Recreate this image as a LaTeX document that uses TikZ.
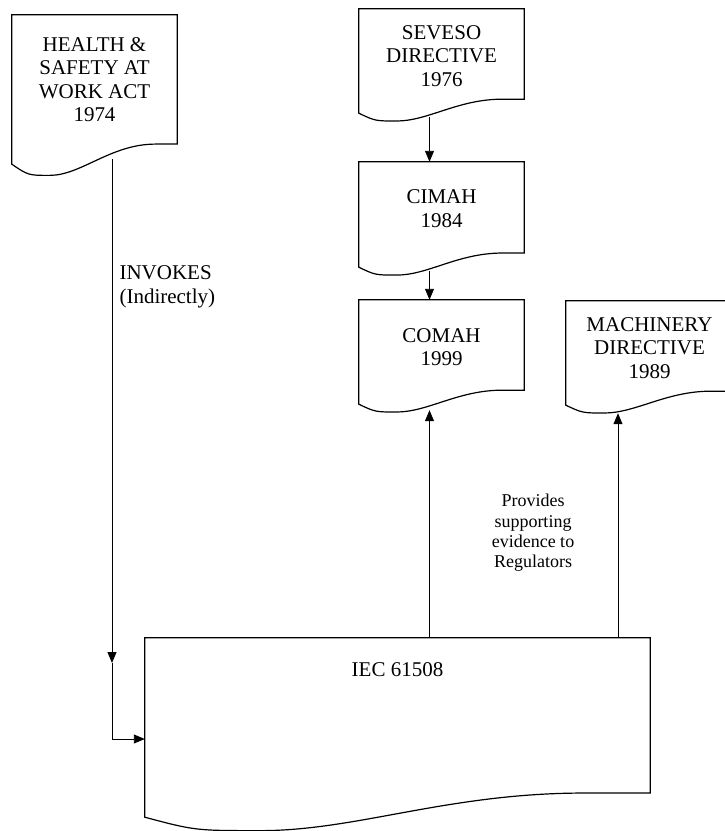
\documentclass[tikz,border=0pt]{standalone}
\usepackage{fontspec}
\setmainfont{Liberation Serif}
\usetikzlibrary{arrows.meta,calc,positioning}

\tikzset{
  docbox/.style 2 args={rectangle, minimum width=#1pt, minimum height=#2pt,
    inner sep=0pt, align=center, font=\fontsize{21}{23.5}\selectfont},
  docline/.style={line width=1.2pt},
  link/.style={line width=0.9pt, -{Triangle[length=11pt,width=9pt]}},
  note/.style={font=\fontsize{18}{20.3}\selectfont, align=center}
}

% document outline: node, width, height
\newcommand{\docoutline}[3]{%
  \draw[docline] (#1.north west) -- (#1.north east)
    -- ($(#1.south east)+(0,-0.135*#3)$)
    -- ($(#1.south west)+(0.87*#2,-0.135*#3)$)
    .. controls ($(#1.south west)+(0.6*#2,-0.135*#3)$)
    and ($(#1.south west)+(0.42*#2,0.075*#3)$)
    .. ($(#1.south west)+(0.23*#2,0.075*#3)$)
    .. controls ($(#1.south west)+(0.1*#2,0.075*#3)$)
    .. (#1.south west) -- cycle;}

\begin{document}
\begin{tikzpicture}[x=1pt,y=-1pt]
  \useasboundingbox (0,0) rectangle (724,831);

  % Documents
  \node[docbox={165}{149}, text depth=20pt] (health) at (94.5,89.5) {HEALTH \&\\SAFETY AT\\WORK ACT\\1974};
  \node[docbox={165}{104}, text depth=10pt] (seveso) at (441.5,61) {SEVESO\\DIRECTIVE\\1976};
  \node[docbox={165}{105}, text depth=12pt] (cimah) at (441.5,214.5) {CIMAH\\1984};
  \node[docbox={165}{104}, text depth=10pt] (comah) at (441.5,352) {COMAH\\1999};
  \node[docbox={167}{104}, text depth=10pt] (machinery) at (649.5,353) {MACHINERY\\DIRECTIVE\\1989};
  \node[docbox={505}{179}] (iec) at (397.5,727.5) {};
  \node[font=\fontsize{21}{23.5}\selectfont] (ieclabel) at (397.5,670) {IEC 61508};

  \docoutline{health}{165}{149}
  \docoutline{seveso}{165}{104}
  \docoutline{cimah}{165}{105}
  \docoutline{comah}{165}{104}
  \docoutline{machinery}{167}{104}
  \docoutline{iec}{505}{179}

  % Connections
  \draw[link] ([xshift=-12pt,yshift=-4pt]seveso.south) -- ([xshift=-12pt]cimah.north);
  \draw[link] ([xshift=-12pt,yshift=-4pt]cimah.south) -- ([xshift=-12pt]comah.north);
  \draw[link] ([xshift=-12pt]comah.south |- iec.north) -- ([xshift=-12pt,yshift=-6pt]comah.south);
  \draw[link] ([xshift=-31.5pt]machinery.south |- iec.north) -- ([xshift=-31.5pt,yshift=-8pt]machinery.south);

  \coordinate (invokes) at (112,663);
  \draw[link] ([xshift=17.5pt,yshift=5pt]health.south) -- (invokes);
  \draw[link] (invokes) |- ([yshift=-11.5pt]iec.west);

  % Labels
  \node[anchor=west, align=left, font=\fontsize{21}{24}\selectfont] (invokestext) at (116,287) {INVOKES\\(Indirectly)};
  \node[note] (provides) at (533,533) {Provides\\supporting\\evidence to\\Regulators};
\end{tikzpicture}
\end{document}
